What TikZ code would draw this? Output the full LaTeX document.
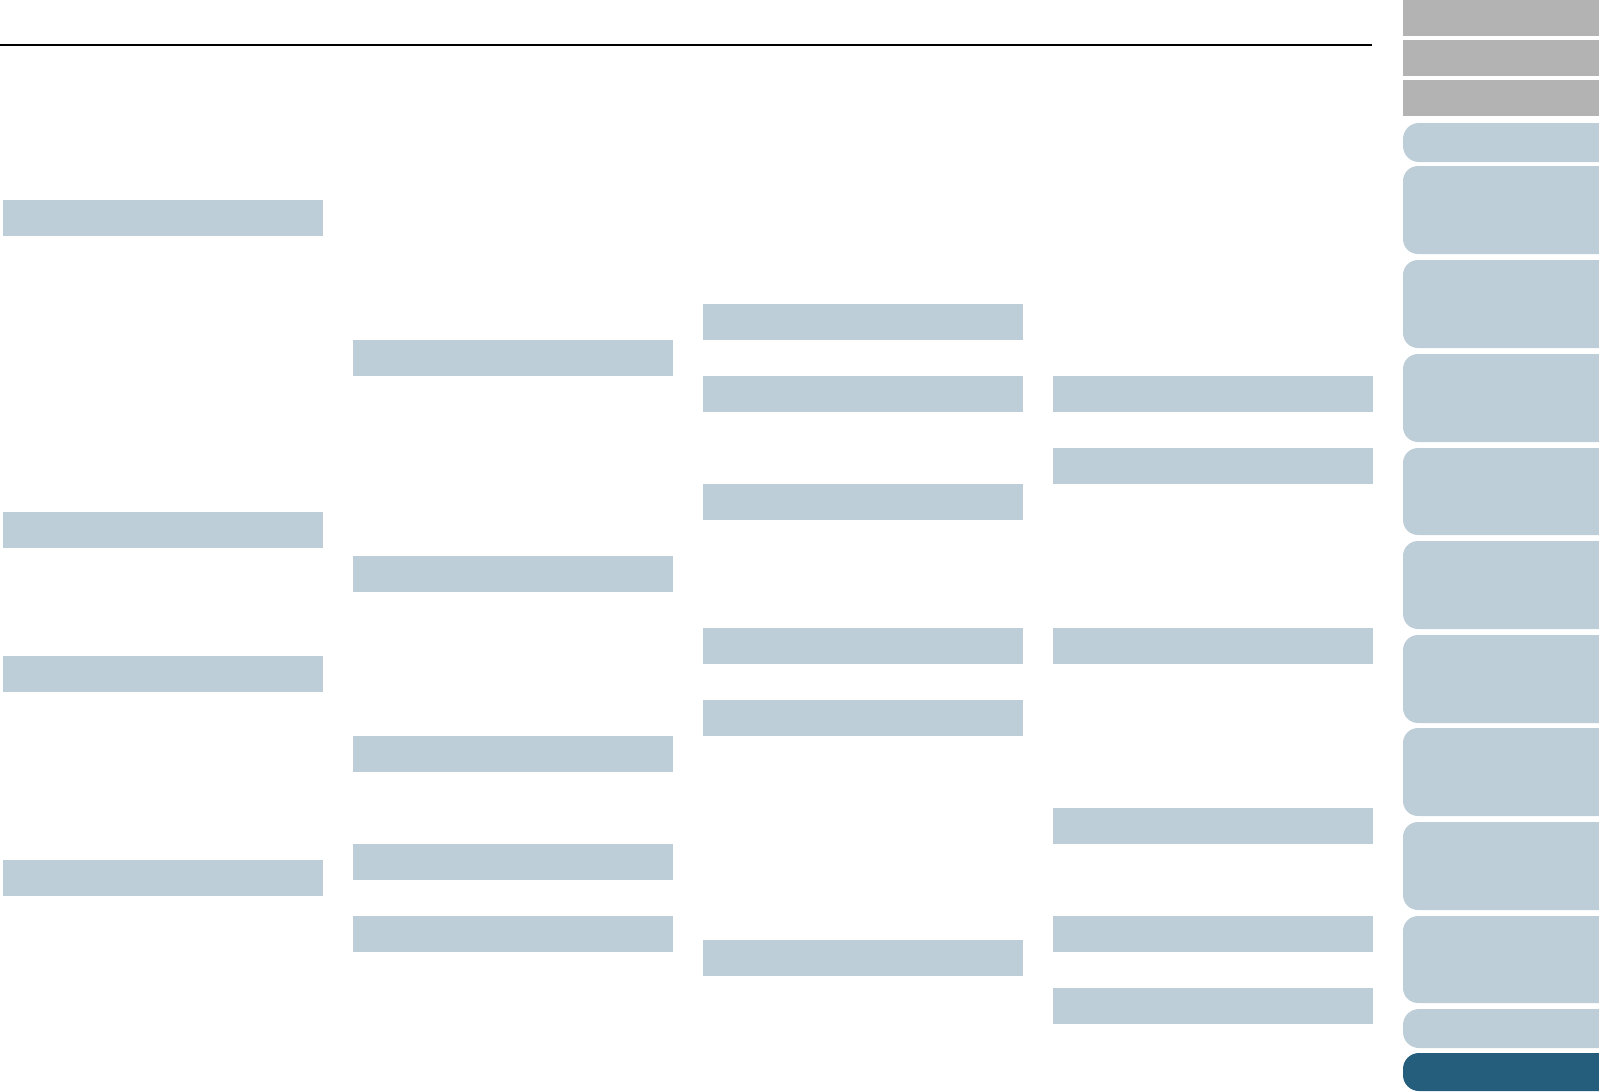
\documentclass[tikz,border=0pt]{standalone}
\usepackage{tikz}
\usetikzlibrary{positioning}
\definecolor{pgblue}{HTML}{BECED8}
\definecolor{pggray}{HTML}{B3B3B3}
\definecolor{pgdark}{HTML}{255D7C}

\begin{document}
\begin{tikzpicture}[x=1pt, y=-1pt,
    headbox/.style={rectangle, fill=pgblue, minimum width=320pt, minimum height=36pt, inner sep=0pt, anchor=north west}]
    \useasboundingbox (0,0) rectangle (1599,1092);
    % rule under the page head
    \draw[line width=2pt] (0,44.7) -- (1372,44.7);
    % side tabs
    \foreach \t/\b in {0/36, 40/76, 80/116}
      \fill[pggray] (1403,\t) rectangle (1599,\b);
    \fill[pgblue, rounded corners=16pt] (1599,123) -- (1403,123) -- (1403,162) -- (1599,162);
    \foreach \t/\b in {166/254, 260/348, 354/442, 448/535, 541/629, 635/723, 728/816, 822/910, 916/1003}
      \fill[pgblue, rounded corners=15pt] (1599,\t) -- (1403,\t) -- (1403,\b) -- (1599,\b);
    \fill[pgblue, rounded corners=16pt] (1599,1009) -- (1403,1009) -- (1403,1048) -- (1599,1048);
    \fill[pgdark, rounded corners=16pt] (1599,1053) -- (1403,1053) -- (1403,1091) -- (1599,1091);
    % heading boxes, one column at a time
    \foreach \y [count=\i] in {200, 512, 656, 860}
      \node[headbox] (a\i) at (3,\y) {};
    \foreach \y [count=\i] in {340, 556, 736, 844, 916}
      \node[headbox] (b\i) at (353,\y) {};
    \foreach \y [count=\i] in {304, 376, 484, 628, 700, 940}
      \node[headbox] (c\i) at (703,\y) {};
    \foreach \y [count=\i] in {376, 448, 628, 808, 916, 988}
      \node[headbox] (d\i) at (1053,\y) {};
  \end{tikzpicture}
\end{document}
